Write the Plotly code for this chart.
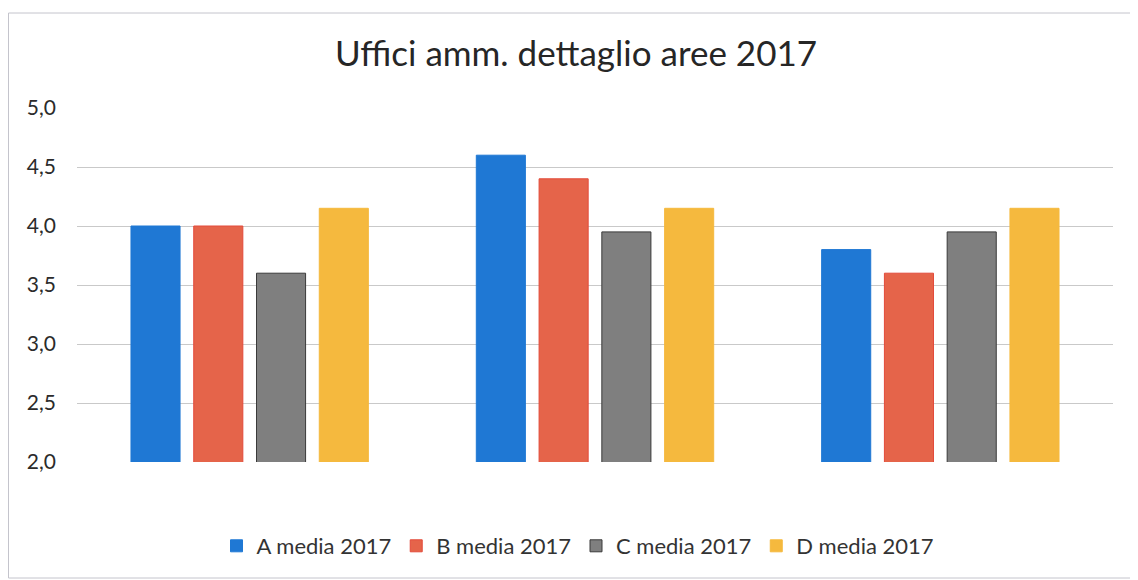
import plotly.graph_objects as go

categories = ["Area 1", "Area 2", "Area 3"]
series_names = ["A media 2017", "B media 2017", "C media 2017", "D media 2017"]
a_values = [4.0, 4.6, 3.8]
b_values = [4.0, 4.4, 3.6]
c_values = [3.6, 3.95, 3.95]
d_values = [4.15, 4.15, 4.15]
tick_values = [2.0, 2.5, 3.0, 3.5, 4.0, 4.5, 5.0]

colors = ["#1f78d4", "#e5644a", "#7f7f7f", "#f5b93e"]
outlines = ["#1f78d4", "#e34a3a", "#3a3a3a", "#f5b93e"]

# page body has an 8px margin, so the figure is sized to fit the window
W, H = 1130, 572
ML, MR, MT, MB = 69, 25, 100, 118
PW, PH = W - ML - MR, H - MT - MB

fig = go.Figure()
for name, vals, col, oc in zip(series_names, [a_values, b_values, c_values, d_values], colors, outlines):
    fig.add_trace(go.Bar(
        x=categories, y=vals, name=name,
        marker=dict(color=col, line=dict(color=oc, width=1)),
    ))

font_family = "Lato, 'Open Sans', sans-serif"
fig.update_layout(
    width=W, height=H,
    paper_bgcolor="white", plot_bgcolor="white",
    separators=",.",
    barmode="group", bargap=0.273, bargroupgap=0.218,
    margin=dict(l=ML, r=MR, t=MT, b=MB),
    title=dict(text="Uffici amm. dettaglio aree 2017", x=568 / W, xanchor="center",
               y=1 - 46 / H, yanchor="middle",
               font=dict(family=font_family, size=35, color="#262626")),
    font=dict(family=font_family, color="#333333"),
    legend=dict(orientation="h", x=(570 - ML) / PW, xanchor="center",
                y=(H - MB - 538) / PH, yanchor="middle",
                font=dict(size=22, color="#333333"), itemwidth=30, traceorder="normal"),
    xaxis=dict(showticklabels=False, showgrid=False, zeroline=False, showline=False, ticks=""),
    yaxis=dict(range=[2.0, 5.0], tickvals=tick_values, tickformat=".1f",
               showgrid=True, gridcolor="#c9c9c9", gridwidth=1, zeroline=False,
               showline=False, ticks="", ticklabelstandoff=20,
               tickfont=dict(size=21, color="#2b2b2b")),
    shapes=[dict(type="rect", xref="paper", yref="paper",
                 x0=(0.5 - ML) / PW, x1=(1129.5 - ML) / PW,
                 y0=(H - MB - 570) / PH, y1=(H - MB - 5) / PH,
                 line=dict(color="#c4c4cc", width=1))],
)

fig.write_html("out.html")
